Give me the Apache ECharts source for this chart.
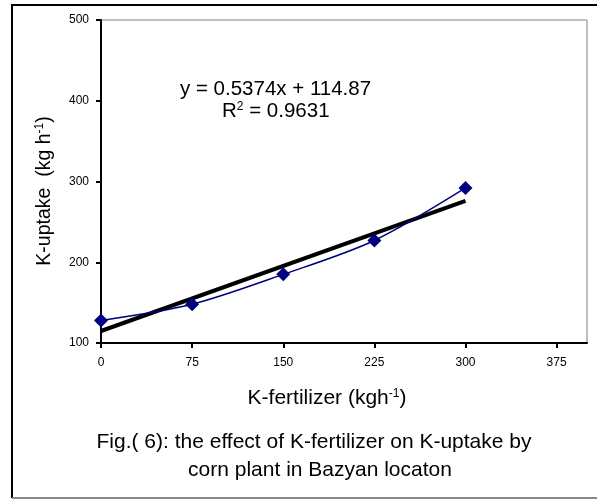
<!DOCTYPE html>
<html><head><meta charset="utf-8">
<script src="https://cdn.jsdelivr.net/npm/echarts@6/dist/echarts.min.js"></script>
<style>html,body{margin:0;padding:0;background:#fff}#c{width:597px;height:499px}</style>
</head><body><div id="c"></div>
<script>
const xValues = [0, 75, 150, 225, 300];
const uptake = [128, 148, 185, 227, 292];
const trendX = [0, 300];
const trendY = [114.87, 276.09];
const xTicks = [0, 75, 150, 225, 300, 375];
const yTicks = [100, 200, 300, 400, 500];
const eqText = 'y = 0.5374x + 114.87';
const r2Value = '0.9631';
const xTitle = ['K-fertilizer (kgh', '-1', ')'];
const yTitle = ['K-uptake  (kg h', '-1', ')'];
const captionLines = ['Fig.( 6): the effect of K-fertilizer on K-uptake by', 'corn plant in Bazyan locaton'];

const FF = '"Liberation Sans", Arial, sans-serif';
const supRich = (size) => ({
  a: {fontFamily: FF, fontSize: size, fill: '#000', color: '#000', lineHeight: 24, verticalAlign: 'bottom'},
  s: {fontFamily: FF, fontSize: 12, fill: '#000', color: '#000', lineHeight: 12, verticalAlign: 'bottom', padding: [0, 0, 9, 0]}
});
const chart = echarts.init(document.getElementById('c'), null, {renderer: 'canvas'});
const option = {
  backgroundColor: '#fff',
  animation: false,
  grid: {left: 101, right: 10, top: 20, bottom: 156, show: true, borderColor: '#808080', borderWidth: 1, backgroundColor: '#fff'},
  xAxis: {
    type: 'value', min: 0, max: 400, interval: 75,
    axisLine: {show: true, lineStyle: {color: '#000', width: 2}},
    axisTick: {show: true, length: 5, lineStyle: {color: '#000', width: 2}, customValues: xTicks},
    axisLabel: {color: '#000', fontFamily: FF, fontSize: 12, margin: 14, customValues: xTicks},
    splitLine: {show: false}
  },
  yAxis: {
    type: 'value', min: 100, max: 500, interval: 100,
    axisLine: {show: true, lineStyle: {color: '#000', width: 2}},
    axisTick: {show: true, length: 5, lineStyle: {color: '#000', width: 2}},
    axisLabel: {color: '#000', fontFamily: FF, fontSize: 12, margin: 12, customValues: yTicks},
    splitLine: {show: false}
  },
  series: [
    {
      type: 'line', name: 'K-uptake',
      data: xValues.map((x, i) => [x, uptake[i]]),
      smooth: 0.3,
      symbol: 'diamond', symbolSize: 14,
      itemStyle: {color: '#000080'},
      lineStyle: {color: '#000080', width: 1.5},
      z: 3
    },
    {
      type: 'line', name: 'trend',
      data: trendX.map((x, i) => [x, trendY[i]]),
      symbol: 'none',
      lineStyle: {color: '#000', width: 4},
      z: 2
    }
  ],
  graphic: [
    {type: 'line', shape: {x1: 12, y1: 5, x2: 12, y2: 498}, style: {stroke: '#000', lineWidth: 2}},
    {type: 'line', shape: {x1: 11, y1: 5, x2: 597, y2: 5}, style: {stroke: '#000', lineWidth: 2}},
    {type: 'line', shape: {x1: 12, y1: 498, x2: 597, y2: 498}, style: {stroke: '#888', lineWidth: 2}},
    {type: 'text', x: 180, y: 89, style: {text: eqText, fontFamily: FF, fontSize: 20.5, fill: '#000', verticalAlign: 'middle', align: 'left'}},
    {type: 'text', x: 222, y: 110, style: {
      text: '{a|R}{s|2}{a| = ' + r2Value + '}',
      verticalAlign: 'middle', align: 'left', rich: supRich(20.5)
    }},
    {type: 'text', x: 327, y: 397, style: {
      text: '{a|' + xTitle[0] + '}{s|' + xTitle[1] + '}{a|' + xTitle[2] + '}',
      verticalAlign: 'middle', align: 'center', rich: supRich(21)
    }},
    {type: 'text', x: 43, y: 191, rotation: Math.PI / 2, style: {
      text: '{a|' + yTitle[0] + '}{s|' + yTitle[1] + '}{a|' + yTitle[2] + '}',
      verticalAlign: 'middle', align: 'center', rich: supRich(19.5)
    }},
    {type: 'text', x: 314, y: 442, style: {text: captionLines[0], fontFamily: FF, fontSize: 21, fill: '#000', align: 'center', verticalAlign: 'middle'}},
    {type: 'text', x: 320, y: 470, style: {text: captionLines[1], fontFamily: FF, fontSize: 21, fill: '#000', align: 'center', verticalAlign: 'middle'}}
  ]
};
chart.setOption(option);
</script>
</body></html>
